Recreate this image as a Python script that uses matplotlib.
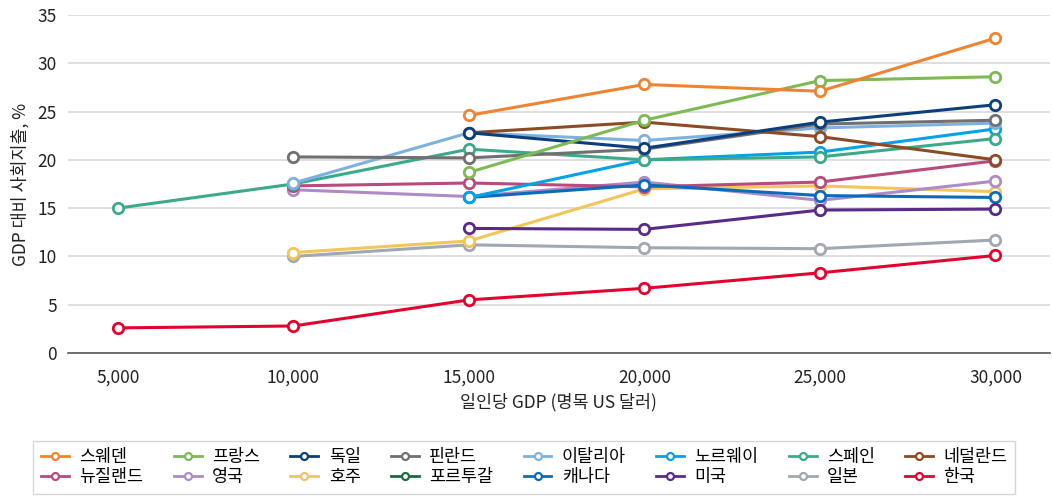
import numpy as np
import matplotlib.pyplot as plt
from matplotlib.lines import Line2D

plt.rcParams['font.family'] = ['Noto Sans CJK KR', 'DejaVu Sans']

# GDP per capita levels (categories on x)
gdp_levels = ['5,000', '10,000', '15,000', '20,000', '25,000', '30,000']

countries = ['스웨덴', '프랑스', '독일', '핀란드', '이탈리아', '노르웨이', '스페인', '네덜란드',
             '뉴질랜드', '영국', '호주', '포르투갈', '캐나다', '미국', '일본', '한국']

nan = np.nan
sweden      = [nan, nan, 24.6, 27.8, 27.1, 32.6]
france      = [nan, nan, 18.7, 24.1, 28.2, 28.6]
germany     = [nan, nan, 22.8, 21.2, 23.9, 25.7]
finland     = [nan, 20.3, 20.2, 21.1, 23.7, 24.1]
italy       = [nan, 17.6, 22.8, 22.0, 23.3, 23.8]
norway      = [nan, nan, 16.1, 20.0, 20.8, 23.2]
spain       = [15.0, 17.5, 21.1, 20.0, 20.3, 22.2]
netherlands = [nan, nan, 22.8, 23.9, 22.4, 20.0]
new_zealand = [nan, 17.3, 17.6, 17.2, 17.7, 19.9]
uk          = [nan, 16.9, 16.2, 17.7, 15.8, 17.8]
australia   = [nan, 10.4, 11.6, 17.0, 17.3, 16.7]
portugal    = [nan, nan, nan, nan, nan, nan]
canada      = [nan, nan, 16.1, 17.4, 16.3, 16.1]
usa         = [nan, nan, 12.9, 12.8, 14.8, 14.9]
japan       = [nan, 10.0, 11.2, 10.9, 10.8, 11.7]
korea       = [2.6, 2.8, 5.5, 6.7, 8.3, 10.1]

series = [sweden, france, germany, finland, italy, norway, spain, netherlands,
          new_zealand, uk, australia, portugal, canada, usa, japan, korea]

colors = ['#F08332', '#7DB954', '#0B3F7C', '#707070', '#7FB1E0', '#00A3E6', '#3BAA8B', '#8C4B24',
          '#B94A7E', '#AE8BC6', '#F3C55B', '#1D6B3B', '#0A6BBA', '#5A2A8A', '#A0A8B1', '#E4032E']

fig = plt.figure(figsize=(10.52, 4.97), dpi=100)
ax = fig.add_axes([0.0646, 0.2897, 0.9334, 0.6803])

x = np.arange(len(gdp_levels))
# lower-priority series first so the key ones sit on top
draw_order = [11, 14, 10, 9, 8, 12, 13, 5, 6, 4, 3, 7, 2, 1, 0, 15]
for i in draw_order:
    ax.plot(x, series[i], color=colors[i], lw=2.2, marker='o', ms=7.5,
            mfc='white', mec=colors[i], mew=2.0, zorder=3)

ax.set_xlim(-0.285, 5.31)
ax.set_ylim(0, 35)
ax.set_yticks(np.arange(0, 36, 5))
ax.set_xticks(x)
ax.set_xticklabels(gdp_levels)
ax.tick_params(axis='both', length=0, labelsize=12.5, colors='#222222')
ax.tick_params(axis='x', pad=11)
ax.tick_params(axis='y', pad=8)
ax.grid(axis='y', color='#D9D9D9', lw=1.2)
ax.set_axisbelow(True)
for s in ['top', 'right', 'left']:
    ax.spines[s].set_visible(False)
ax.spines['bottom'].set_color('#595959')
ax.spines['bottom'].set_linewidth(1.2)

ax.set_ylabel('GDP 대비 사회지출, %', fontsize=12.5, color='#222222', labelpad=6)
ax.set_xlabel('일인당 GDP (명목 US 달러)', fontsize=12.5, color='#222222', labelpad=5)

# legend laid out row by row (8 columns x 2 rows)
handles = [Line2D([0], [0], color=c, lw=2, marker='o', ms=5, mfc='white', mec=c, mew=1.6)
           for c in colors]
order = []
for col in range(8):
    order += [col, col + 8]
leg = fig.legend([handles[i] for i in order], [countries[i] for i in order],
                 ncol=8, loc='upper center', bbox_to_anchor=(0.4985, 0.131),
                 fontsize=12.5, frameon=True, fancybox=False, edgecolor='#CCCCCC',
                 handlelength=1.6, handletextpad=0.6, columnspacing=1.75,
                 labelspacing=0.1, borderpad=0.45)
leg.get_frame().set_linewidth(1.0)

fig.savefig('out.png', dpi=100)
